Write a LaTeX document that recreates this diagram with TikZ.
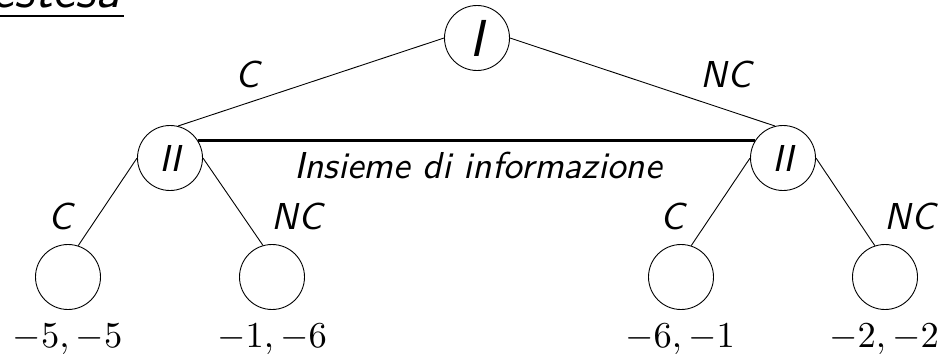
\documentclass[tikz,border=0pt]{standalone}
\newcommand{\sfl}[1]{\scalebox{3.75}{\sffamily\itshape #1}}
\newcommand{\sflbig}[1]{\scalebox{5.2}{\sffamily\itshape #1}}
\newcommand{\paytxt}[1]{\scalebox{3.65}{$#1$}}
\begin{document}
\begin{tikzpicture}[x=1pt,y=-1pt,
  st/.style={circle,draw,line width=0.9pt,minimum size=65pt,inner sep=0pt},
  lab/.style={inner sep=0pt},
  pay/.style={inner sep=0pt,anchor=base},
  edge/.style={line width=0.9pt},
  infoset/.style={line width=2.4pt}]
\useasboundingbox (0,0) rectangle (944,356);
% title fragment
\node[lab,anchor=base east] (title) at (121,8) {\sflbig{estesa}};
\coordinate (ul0) at (0,16);
\draw[line width=2.7pt] (ul0) -- ([xshift=3pt]ul0 -| title.east);
% decision nodes
\node[st] (I) at (477,38) {\sflbig{I}};
\node[st] (A) at (170,158) {\sfl{II}};
\node[st] (B) at (783,158) {\sfl{II}};
% terminal nodes
\node[st] (L1) at (68,277) {};
\node[st] (L2) at (272,277) {};
\node[st] (L3) at (681,277) {};
\node[st] (L4) at (885,277) {};
% edges
\draw[edge] (I.180) -- (A.76);
\draw[edge] (I.0) -- (B.104);
\draw[edge] (A.180) -- (L1.72);
\draw[edge] (A.0) -- (L2.106);
\draw[edge] (B.180) -- (L3.72);
\draw[edge] (B.0) -- (L4.108);
\draw[infoset] (A.32) -- (B.148);
% labels
\node[lab] (c0) at (247,74) {\sfl{C}};
\node[lab] (nc0) at (726,74) {\sfl{NC}};
\node[lab] (info) at (478,165.5) {\sfl{Insieme di informazione}};
\node[lab] (c1) at (60,216) {\sfl{C}};
\node[lab] (nc1) at (297,216) {\sfl{NC}};
\node[lab] (c2) at (672,216) {\sfl{C}};
\node[lab] (nc2) at (910,216) {\sfl{NC}};
% payoffs
\node[pay] (p1) at (67.5,347) {\paytxt{-5,-5}};
\node[pay] (p2) at (272,347) {\paytxt{-1,-6}};
\node[pay] (p3) at (680,347) {\paytxt{-6,-1}};
\node[pay] (p4) at (884,347) {\paytxt{-2,-2}};
\end{tikzpicture}
\end{document}
